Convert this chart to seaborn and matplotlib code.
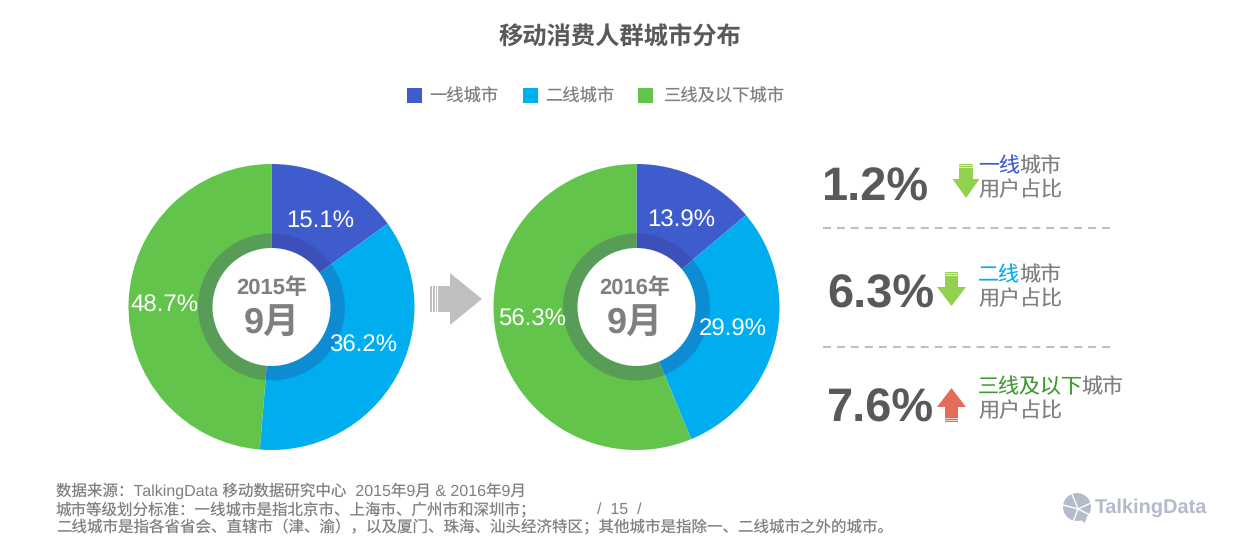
import matplotlib
matplotlib.use("Agg")
import matplotlib.pyplot as plt
from matplotlib.patches import Polygon, Rectangle, Circle
import seaborn as sns

W, H = 1239, 542
TITLE = "移动消费人群城市分布"
TIERS = ["一线城市", "二线城市", "三线及以下城市"]
VALUES_2015 = [15.1, 36.2, 48.7]
VALUES_2016 = [13.9, 29.9, 56.3]
YEARS = ["2015年", "2016年"]
MONTH = "9月"
CHANGES = ["1.2%", "6.3%", "7.6%"]
FOOT1 = "数据来源：TalkingData 移动数据研究中心  2015年9月 & 2016年9月"
FOOT2 = "城市等级划分标准：一线城市是指北京市、上海市、广州市和深圳市；"
FOOT3 = "二线城市是指各省省会、直辖市（津、渝），以及厦门、珠海、汕头经济特区；其他城市是指除一、二线城市之外的城市。"
PAGE = "/  15  /"

sns.set_theme(style="white")
FONT = ["Liberation Sans", "Noto Sans CJK SC", "DejaVu Sans"]
plt.rcParams["font.family"] = FONT
plt.rcParams["text.hinting"] = "no_hinting"
plt.rcParams["text.hinting_factor"] = 1
COLORS = sns.color_palette(["#3F5CCC", "#00AEEF", "#62C44A"])
GREY, DARK = "#7F7F7F", "#595959"
DOWN, UP = "#92D050", "#E36C5A"

fig = plt.figure(figsize=(W / 100, H / 100), dpi=100, facecolor="white")


def donut(values, cx, cy, R=143):
    ax = fig.add_axes([(cx - R) / W, 1 - (cy + R) / H, 2 * R / W, 2 * R / H])
    ax.pie(values, colors=COLORS, startangle=90, counterclock=False, radius=1,
           normalize=True, wedgeprops=dict(linewidth=0))
    ax.add_patch(Circle((0, 0), 73.5 / R, fc="#3A2A80", alpha=0.25, lw=0))
    ax.add_patch(Circle((0, 0), 59 / R, fc="white", lw=0))
    ax.set_xlim(-1, 1)
    ax.set_ylim(-1, 1)
    ax.set_aspect("equal")
    ax.axis("off")


donut(VALUES_2015, 271.5, 307)
donut(VALUES_2016, 636.5, 307)

ov = fig.add_axes([0, 0, 1, 1], facecolor="none")
ov.set_xlim(0, W)
ov.set_ylim(H, 0)
ov.axis("off")


def txt(x, y, s, size_px, color=GREY, weight="normal", ha="left", va="center", **kw):
    return ov.text(x, y, s, fontsize=size_px * 0.72, color=color, weight=weight,
                   ha=ha, va=va, family=FONT, **kw)


txt(619.5, 38, TITLE, 24.3, DARK, "bold", ha="center")

for x, tx, label, c in zip([407, 523, 638], [429, 545, 663], TIERS, COLORS):
    ov.add_patch(Rectangle((x, 88), 15, 15, fc=c, lw=0))
    txt(tx, 97, label, 17.3, GREY)

for (x, y), v in zip([(320, 221), (363, 346), (164, 306)], VALUES_2015):
    txt(x, y, f"{v}%", 24, "white", ha="center")
for (x, y), v in zip([(681, 221), (733, 330), (532, 320)], VALUES_2016):
    txt(x, y, f"{v}%", 24, "white", ha="center")

for cx, year in zip([272, 634.5], YEARS):
    txt(cx, 288.5, year, 22, GREY, "bold", ha="center")
    txt(cx, 324, MONTH, 36, GREY, "bold", ha="center")

# centre arrow
ov.add_patch(Polygon([[450, 286], [450, 273], [482, 299], [450, 325], [450, 312],
                      [438, 312], [438, 286]], fc="#BFBFBF", lw=0))
for x, w in [(430, 2), (433, 1.5), (435.5, 1.5)]:
    ov.add_patch(Rectangle((x, 286), w, 26, fc="#BFBFBF", lw=0))

# change figures
for (x, y), s in zip([(821, 188.5), (827, 295.5), (827, 409.5)], CHANGES):
    txt(x, y, s, 47.5, DARK, "bold")


def arrow(cx, hw, sw, top, neck, tip, down=True):
    """Block arrow with two pale stripes at its tail; neck is where the head meets the shaft."""
    c = DOWN if down else UP
    ov.add_patch(Polygon([[cx - sw, top], [cx + sw, top], [cx + sw, neck], [cx + hw, neck],
                          [cx, tip], [cx - hw, neck], [cx - sw, neck]], fc=c, lw=0))
    step = 1 if down else -1
    for off in (1.5, 3.5):
        ov.add_patch(Rectangle((cx - sw, top + step * off - 0.4), 2 * sw, 0.8,
                               fc="white", alpha=0.7, lw=0))


arrow(966, 13.5, 7, 164, 179, 198)
arrow(951.5, 14.5, 6.5, 272, 287, 306)
arrow(951.5, 14.5, 6.5, 422, 407, 388, down=False)

# tier captions: coloured lead characters plus grey remainder
CW = 20.7
for y, (lead, rest, c) in zip([167, 276, 388],
                              [("一线", "城市", COLORS[0]),
                               ("二线", "城市", COLORS[1]),
                               ("三线及以下", "城市", "#3F9A2F")]):
    txt(978, y, lead, 21, c)
    txt(978 + CW * len(lead), y, rest, 21, GREY)
    txt(978, y + 24, "用户占比", 21, GREY)

for y in [228, 347]:
    ov.plot([823, 1111], [y, y], color="#BFBFBF", lw=1.5, dashes=(3.8, 2.9))

# footer
txt(56, 490.5, FOOT1, 15.5, GREY)
txt(56, 509.5, FOOT2, 15.5, GREY)
txt(56, 528, FOOT3, 15.5, GREY)
txt(597, 509.5, PAGE, 15.5, GREY)

# logo
LOGO = "#B5BBCB"
ov.add_patch(Circle((1077, 507), 14, fc=LOGO, lw=0))
ov.add_patch(Polygon([[1078, 518], [1087, 516], [1085, 523]], fc=LOGO, lw=0))
for a, b in [((1063, 505), (1078, 509)), ((1078, 509), (1091, 503)), ((1078, 509), (1072, 494)),
             ((1078, 509), (1073, 522)), ((1078, 509), (1090, 515))]:
    ov.plot([a[0], b[0]], [a[1], b[1]], color="white", lw=1)
ov.text(1095, 508, "TalkingData", fontsize=14.6, color=LOGO, weight="bold", ha="left",
        va="center", family=["Liberation Sans"])

fig.savefig("out.png", dpi=100, facecolor="white")
